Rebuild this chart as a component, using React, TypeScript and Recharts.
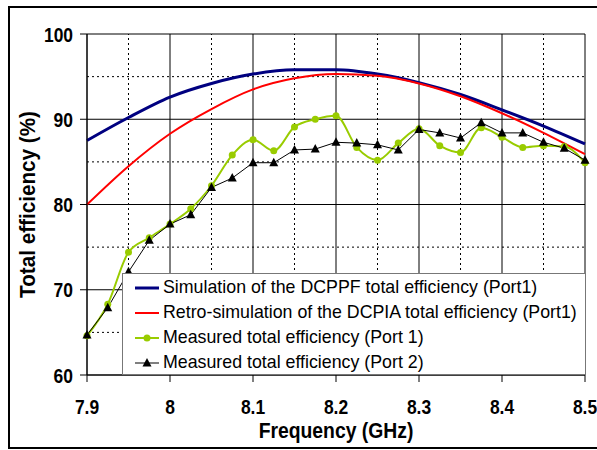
import React from "react";
import {
  LineChart,
  Line,
  XAxis,
  YAxis,
  CartesianGrid,
  ReferenceLine,
} from "recharts";

// measured points every 25 MHz
const freq = [
  7.9, 7.925, 7.95, 7.975, 8.0, 8.025, 8.05, 8.075, 8.1, 8.125, 8.15, 8.175, 8.2,
  8.225, 8.25, 8.275, 8.3, 8.325, 8.35, 8.375, 8.4, 8.425, 8.45, 8.475, 8.5,
];
const port1 = [
  64.6, 68.3, 74.4, 76.1, 77.7, 79.5, 82.2, 85.8, 87.6, 86.3, 89.1, 90.0, 90.4,
  86.7, 85.2, 87.2, 88.9, 86.9, 86.1, 89.0, 87.9, 86.7, 86.9, 86.8, 84.9,
];
const port2 = [
  64.7, 67.9, 72.1, 75.8, 77.7, 78.8, 82.0, 83.1, 84.9, 84.9, 86.4, 86.5, 87.3,
  87.2, 87.0, 86.4, 88.8, 88.4, 87.8, 89.6, 88.4, 88.4, 87.3, 86.6, 85.2,
];

// simulated curves
const simFreq = [7.9, 7.95, 8.0, 8.05, 8.1, 8.15, 8.2, 8.25, 8.3, 8.35, 8.4, 8.45, 8.5];
const simDCPPF = [87.5, 90.2, 92.6, 94.2, 95.3, 95.8, 95.8, 95.3, 94.3, 92.9, 91.1, 89.2, 87.1];
const retroDCPIA = [80.0, 84.5, 88.3, 91.2, 93.5, 94.8, 95.3, 95.1, 94.2, 92.7, 90.7, 88.4, 85.9];

const xTicks = [7.9, 8, 8.1, 8.2, 8.3, 8.4, 8.5];
const yTicks = [60, 70, 80, 90, 100];
const xMinor = [7.95, 8.05, 8.15, 8.25, 8.35, 8.45];
const yMinor = [65, 75, 85, 95];

const seriesNames = [
  "Simulation of the DCPPF total efficiency (Port1)",
  "Retro-simulation of the DCPIA total efficiency (Port1)",
  "Measured total efficiency (Port 1)",
  "Measured total efficiency (Port 2)",
];

const GREEN = "#99cc00";
const NAVY = "#000080";
const RED = "#ff0000";

const measured = freq.map((f, i) => ({ f, p1: port1[i], p2: port2[i] }));
const simulated = simFreq.map((f, i) => ({ f, a: simDCPPF[i], b: retroDCPIA[i] }));

const font = "'Liberation Sans', Arial, sans-serif";

const Triangle = (props: any) => {
  const { cx, cy } = props;
  if (cx == null || cy == null) return null;
  return (
    <polygon
      points={`${cx},${cy - 5} ${cx - 4.5},${cy + 3.5} ${cx + 4.5},${cy + 3.5}`}
      fill="#000"
    />
  );
};

// narrow, tall bold tick labels like the original
const XTick = (props: any) => {
  const { x, y, payload } = props;
  return (
    <g transform={`translate(${x},${y}) scale(0.83,1)`}>
      <text x={0} y={0} dy="0.72em" textAnchor="middle" fontSize={21} fontWeight="bold" fontFamily={font} fill="#000">
        {payload.value}
      </text>
    </g>
  );
};

const YTick = (props: any) => {
  const { x, y, payload } = props;
  return (
    <g transform={`translate(${x},${y}) scale(0.83,1)`}>
      <text x={0} y={0} dy="0.36em" textAnchor="end" fontSize={21} fontWeight="bold" fontFamily={font} fill="#000">
        {payload.value}
      </text>
    </g>
  );
};

const LegendBox = () => (
  <div
    style={{
      position: "absolute",
      left: 122,
      top: 273,
      width: 464,
      height: 102,
      background: "#fff",
      border: "1px solid #777",
      fontFamily: font,
      fontSize: 17.8,
      color: "#000",
      paddingTop: 1,
      boxSizing: "border-box",
      whiteSpace: "nowrap",
    }}
  >
    {seriesNames.map((name, i) => (
      <div key={name} style={{ display: "flex", alignItems: "center", height: 25 }}>
        <svg width={26} height={14} style={{ marginLeft: 11, marginRight: 3, flexShrink: 0 }}>
          {i === 0 && <line x1={1} y1={7} x2={25} y2={7} stroke={NAVY} strokeWidth={3} />}
          {i === 1 && <line x1={1} y1={7} x2={25} y2={7} stroke={RED} strokeWidth={2} />}
          {i === 2 && (
            <>
              <line x1={1} y1={7} x2={25} y2={7} stroke={GREEN} strokeWidth={2} />
              <circle cx={13} cy={7} r={3.5} fill={GREEN} />
            </>
          )}
          {i === 3 && (
            <>
              <line x1={1} y1={7} x2={25} y2={7} stroke="#000" strokeWidth={1} />
              <polygon points="13,2 8.5,10.5 17.5,10.5" fill="#000" />
            </>
          )}
        </svg>
        <span>{name}</span>
      </div>
    ))}
  </div>
);

export default function App() {
  return (
    <div
      style={{
        position: "absolute",
        left: 0,
        top: 0,
        width: 597,
        height: 450,
        background: "#fff",
        overflow: "hidden",
      }}
    >
      <div
        style={{
          position: "absolute",
          left: 8,
          top: 6,
          width: 620,
          height: 443,
          border: "2px solid #000",
          boxSizing: "border-box",
        }}
      />
      <div style={{ position: "absolute", left: 0, top: 0 }}>
        <LineChart
          width={597}
          height={450}
          margin={{ top: 34, right: 12, bottom: 0, left: 0 }}
        >
          <CartesianGrid stroke="#000" strokeWidth={1} />
          {yMinor.map((v) => (
            <ReferenceLine key={"y" + v} y={v} stroke="#000" strokeDasharray="2 3" />
          ))}
          {xMinor.map((v) => (
            <ReferenceLine key={"x" + v} x={v} stroke="#000" strokeDasharray="2 3" />
          ))}
          <XAxis
            dataKey="f"
            type="number"
            domain={[7.9, 8.5]}
            ticks={xTicks}
            height={75}
            allowDuplicatedCategory={false}
            stroke="#000"
            tickSize={7}
            tickMargin={17}
            tick={<XTick />}
            label={(p: any) => {
              const vb = p.viewBox;
              const cx = vb.x + vb.width / 2;
              const cy = vb.y + 63;
              return (
                <g transform={`translate(${cx},${cy}) scale(0.9,1)`}>
                  <text x={0} y={0} textAnchor="middle" fontSize={21.5} fontWeight="bold" fontFamily={font} fill="#000">
                    Frequency (GHz)
                  </text>
                </g>
              );
            }}
          />
          <YAxis
            type="number"
            domain={[60, 100]}
            ticks={yTicks}
            width={87}
            stroke="#000"
            tickSize={7}
            tickMargin={7}
            tick={<YTick />}
            label={(p: any) => {
              const vb = p.viewBox;
              const cx = vb.x + 28;
              const cy = vb.y + vb.height / 2;
              return (
                <g transform={`translate(${cx},${cy}) rotate(-90) scale(0.94,1)`}>
                  <text
                    x={0}
                    y={0}
                    textAnchor="middle"
                    dominantBaseline="central"
                    fontSize={22}
                    fontWeight="bold"
                    fontFamily={font}
                    fill="#000"
                  >
                    Total efficiency (%)
                  </text>
                </g>
              );
            }}
          />
          <Line
            data={simulated}
            dataKey="a"
            type="monotone"
            stroke={NAVY}
            strokeWidth={3}
            dot={false}
            isAnimationActive={false}
          />
          <Line
            data={simulated}
            dataKey="b"
            type="monotone"
            stroke={RED}
            strokeWidth={2}
            dot={false}
            isAnimationActive={false}
          />
          <Line
            data={measured}
            dataKey="p1"
            type="monotone"
            stroke={GREEN}
            strokeWidth={2}
            dot={{ r: 3.5, fill: GREEN, stroke: GREEN, strokeWidth: 0 }}
            isAnimationActive={false}
          />
          <Line
            data={measured}
            dataKey="p2"
            type="linear"
            stroke="#000"
            strokeWidth={1}
            dot={<Triangle />}
            isAnimationActive={false}
          />
        </LineChart>
      </div>
      <LegendBox />
    </div>
  );
}
